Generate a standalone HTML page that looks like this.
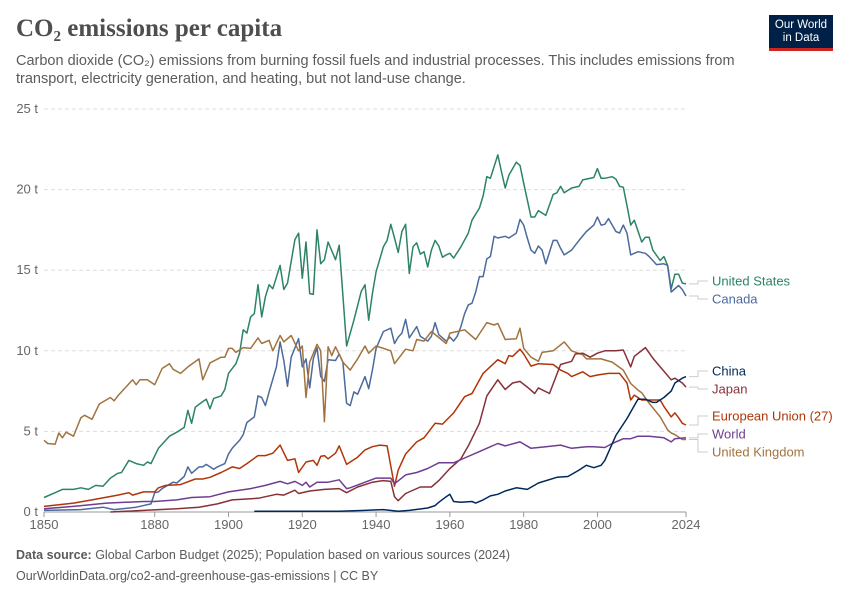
<!DOCTYPE html>
<html><head><meta charset="utf-8">
<style>
body{margin:0;background:#fff;width:850px;height:600px;overflow:hidden;font-family:"Liberation Sans",sans-serif}
.t{position:absolute}
</style></head>
<body>
<div class="t" style="left:16px;top:15px;font-family:'Liberation Serif',serif;font-size:25px;font-weight:bold;color:#4e4e4e">CO₂ emissions per capita</div>
<div class="t" style="left:16px;top:52px;width:740px;font-size:14.5px;line-height:18px;color:#5b5b5b">Carbon dioxide (CO₂) emissions from burning fossil fuels and industrial processes. This includes emissions from transport, electricity generation, and heating, but not land-use change.</div>
<div class="t" style="left:769px;top:15px;width:64px;height:36px;background:#002147;border-bottom:3px solid #ce261e;color:#fff;font-size:11.5px;line-height:13px;text-align:center;padding-top:4px;box-sizing:border-box">Our World<br>in Data</div>
<svg class="t" style="left:0;top:0" width="850" height="600" id="chart"></svg>
<div class="t" style="left:16px;top:548px;font-size:12.5px;color:#5b5b5b"><b>Data source:</b> Global Carbon Budget (2025); Population based on various sources (2024)</div>
<div class="t" style="left:16px;top:569px;font-size:12.5px;color:#5b5b5b">OurWorldinData.org/co2-and-greenhouse-gas-emissions | CC BY</div>
<script>
const yTicks=[0,5,10,15,20,25];
const xTicks=[1850,1880,1900,1920,1940,1960,1980,2000,2024];
const usYears=[1850,1853,1855,1858,1860,1862,1864,1866,1868,1870,1871,1873,1875,1877,1878,1879,1881,1882,1884,1886,1888,1889,1890,1891,1893,1894,1895,1896,1898,1899,1900,1902,1903,1904,1905,1906,1907,1908,1909,1910,1911,1912,1914,1915,1916,1918,1919,1920,1921,1922,1923,1924,1925,1926,1927,1929,1930,1932,1934,1936,1937,1938,1939,1940,1942,1943,1944,1945,1946,1947,1948,1949,1950,1951,1952,1953,1954,1955,1956,1957,1958,1959,1960,1961,1963,1965,1966,1968,1969,1970,1971,1973,1974,1975,1976,1978,1979,1980,1982,1983,1984,1986,1988,1989,1990,1991,1993,1995,1996,1999,2000,2001,2002,2004,2005,2006,2007,2008,2009,2010,2012,2013,2014,2015,2017,2018,2019,2020,2021,2022,2023,2024];
const usValues=[0.9,1.2,1.4,1.4,1.5,1.4,1.65,1.6,2.1,2.4,2.45,3.2,3.0,2.9,3.1,3.0,3.95,4.2,4.7,4.95,5.25,6.3,5.5,6.5,6.85,7.0,6.4,7.05,7.2,7.6,8.6,9.2,9.85,11.3,11.1,12.1,12.3,14.1,12.1,13.35,14.1,13.85,15.3,13.8,14.2,16.9,17.3,14.5,16.75,13.55,13.5,17.5,15.4,15.65,16.75,15.65,16.55,10.3,11.9,13.7,14.1,11.9,13.55,14.9,16.45,16.85,17.85,17.0,16.1,17.4,17.85,14.8,16.45,16.7,16.0,16.15,15.2,16.25,16.85,16.5,15.8,15.95,16.05,15.75,16.45,17.3,18.1,18.85,19.6,20.8,20.7,22.15,21.1,20.1,20.9,21.7,21.5,20.4,18.3,18.3,18.7,18.4,19.7,19.8,20.2,19.8,20.1,20.2,20.6,20.75,21.3,20.7,20.7,20.8,20.65,20.2,20.15,19.0,17.8,18.1,16.75,17.05,17.05,16.25,15.6,15.85,15.3,13.85,14.75,14.75,14.2,14.15];
const caYears=[1850,1860,1866,1869,1875,1879,1880,1881,1882,1885,1886,1888,1889,1890,1892,1893,1894,1896,1897,1899,1900,1901,1903,1904,1905,1907,1908,1909,1910,1911,1913,1914,1915,1916,1917,1919,1920,1921,1922,1923,1924,1925,1926,1927,1929,1930,1931,1932,1933,1934,1935,1937,1938,1939,1940,1942,1944,1945,1946,1947,1948,1949,1951,1952,1954,1955,1956,1957,1959,1960,1961,1962,1963,1964,1965,1966,1967,1968,1969,1970,1971,1972,1973,1975,1976,1978,1979,1980,1981,1982,1983,1984,1985,1986,1988,1989,1990,1991,1993,1995,1997,1999,2000,2001,2002,2003,2005,2006,2007,2008,2009,2011,2013,2014,2016,2018,2019,2020,2022,2023,2024];
const caValues=[0.1,0.15,0.3,0.15,0.3,0.5,1.2,1.25,1.45,1.85,1.8,2.2,2.8,2.4,2.8,2.8,2.95,2.65,2.8,3.0,3.6,3.95,4.45,4.8,5.55,5.9,7.2,7.1,6.6,7.45,9.0,10.55,9.4,7.8,9.6,10.75,9.0,9.5,7.7,9.5,10.2,8.4,8.1,9.45,9.4,9.8,9.3,6.75,6.6,7.45,7.3,8.4,7.65,8.8,10.15,11.2,11.4,10.45,10.85,11.1,11.95,10.8,11.5,10.9,10.6,10.9,11.75,11.0,10.6,10.85,10.6,10.9,11.5,12.3,12.85,12.95,13.65,14.6,14.6,15.7,15.85,17.1,17.0,17.1,17.0,17.3,18.15,17.8,17.0,16.25,16.05,16.5,16.25,15.4,16.85,16.85,16.35,15.95,16.25,16.85,17.4,17.8,18.3,17.8,17.85,18.2,17.4,17.3,17.8,17.3,15.95,16.15,16.05,15.85,15.35,15.4,15.3,13.65,14.05,13.8,13.4];
const ukYears=[1850,1851,1853,1854,1855,1856,1858,1860,1861,1863,1865,1868,1869,1870,1874,1875,1876,1878,1880,1882,1884,1885,1887,1889,1892,1893,1895,1898,1899,1900,1901,1902,1904,1906,1908,1909,1911,1912,1914,1915,1917,1919,1920,1921,1922,1924,1925,1926,1927,1928,1929,1931,1933,1935,1937,1938,1940,1944,1945,1948,1950,1951,1953,1955,1959,1960,1964,1967,1970,1972,1973,1975,1978,1979,1980,1982,1984,1985,1988,1991,1993,1996,1997,2001,2004,2007,2009,2011,2012,2014,2017,2019,2020,2021,2023,2024];
const ukValues=[4.45,4.25,4.2,4.9,4.6,4.95,4.7,5.85,6.0,5.75,6.7,7.1,6.9,7.2,8.2,7.9,8.2,8.2,7.9,8.9,9.2,8.85,8.6,9.0,9.5,8.2,9.25,9.6,9.6,10.15,10.15,9.9,10.2,10.15,10.8,10.45,10.65,10.0,10.95,10.55,10.95,10.0,10.3,7.1,9.3,10.4,10.0,5.6,10.25,9.7,10.25,9.3,8.8,9.5,10.3,9.85,10.3,10.0,9.2,10.1,10.0,10.7,10.6,11.2,10.45,11.1,11.3,10.7,11.75,11.6,11.7,10.7,10.75,11.4,10.15,9.6,9.35,9.9,10.0,10.55,10.0,9.75,9.5,9.5,9.3,8.8,7.97,7.56,7.4,6.75,5.9,5.1,4.9,4.8,4.5,4.5];
const euYears=[1850,1858,1863,1870,1873,1874,1877,1880,1881,1883,1887,1891,1893,1895,1898,1901,1903,1905,1908,1910,1912,1914,1916,1918,1919,1921,1923,1924,1925,1926,1927,1929,1930,1932,1935,1937,1939,1941,1943,1945,1946,1948,1951,1953,1956,1958,1961,1964,1966,1969,1973,1975,1976,1977,1979,1980,1982,1984,1988,1990,1992,1993,1996,1998,2000,2003,2006,2008,2009,2010,2012,2013,2017,2018,2020,2021,2022,2023,2024];
const euValues=[0.35,0.55,0.75,1.05,1.2,1.05,1.25,1.25,1.5,1.65,1.7,2.05,2.05,2.15,2.45,2.8,2.7,3.0,3.5,3.5,3.65,4.15,3.2,3.3,2.45,3.1,3.2,2.9,3.45,3.5,3.3,3.65,4.1,2.95,3.4,3.85,4.05,4.15,4.1,1.6,2.6,3.6,4.35,4.6,5.5,5.45,6.15,7.15,7.35,8.6,9.45,9.2,9.7,9.65,10.1,9.8,9.05,9.2,9.15,8.8,8.6,8.4,8.7,8.4,8.5,8.6,8.6,8.0,6.95,7.25,6.95,6.95,6.95,6.55,5.9,6.15,5.85,5.5,5.4];
const jpYears=[1868,1877,1886,1892,1897,1901,1908,1913,1915,1918,1919,1922,1926,1930,1932,1935,1939,1942,1944,1945,1946,1948,1952,1955,1957,1960,1963,1965,1968,1970,1973,1975,1977,1979,1981,1983,1984,1987,1990,1993,1994,1996,1998,2000,2002,2005,2007,2009,2010,2013,2015,2017,2020,2021,2023,2024];
const jpValues=[0.0,0.1,0.2,0.3,0.5,0.75,0.85,1.1,1.05,1.35,1.15,1.3,1.4,1.45,1.2,1.55,1.85,1.95,1.9,0.95,0.7,1.15,1.55,1.55,1.95,2.7,3.3,4.1,5.5,7.2,8.2,7.6,8.0,8.1,7.75,7.35,7.7,7.35,9.15,9.35,9.8,9.85,9.6,9.85,10.0,10.0,10.05,9.0,9.65,10.2,9.55,9.0,8.2,8.3,8.0,7.75];
const cnYears=[1907,1920,1930,1937,1942,1946,1949,1954,1956,1957,1959,1960,1961,1963,1966,1967,1969,1971,1973,1975,1978,1981,1984,1989,1992,1995,1997,1999,2001,2002,2005,2008,2010,2011,2013,2015,2016,2018,2020,2021,2023,2024];
const cnValues=[0.05,0.05,0.05,0.1,0.15,0.05,0.1,0.25,0.4,0.6,0.95,1.1,0.65,0.6,0.65,0.55,0.75,1.0,1.1,1.3,1.5,1.4,1.8,2.15,2.2,2.6,2.9,2.75,2.9,3.2,4.75,5.8,6.6,7.0,7.0,6.8,6.8,7.1,7.5,8.0,8.3,8.4];
const wdYears=[1850,1858,1867,1877,1880,1886,1890,1895,1900,1906,1910,1914,1916,1918,1920,1921,1922,1924,1927,1930,1932,1933,1937,1940,1944,1945,1948,1951,1954,1957,1961,1964,1967,1970,1973,1975,1979,1982,1986,1990,1993,1997,1999,2002,2004,2007,2009,2011,2014,2018,2020,2021,2024];
const wdValues=[0.2,0.35,0.55,0.65,0.65,0.75,0.9,0.95,1.25,1.45,1.65,1.9,1.75,1.9,1.65,1.85,1.55,1.85,1.85,2.0,1.45,1.5,1.85,2.1,2.1,1.75,2.3,2.45,2.7,3.05,3.05,3.35,3.65,3.95,4.25,4.1,4.35,3.95,4.05,4.15,3.95,4.05,4.05,4.0,4.25,4.55,4.55,4.7,4.7,4.6,4.35,4.55,4.6];

const svg=document.getElementById('chart');
const NS='http://www.w3.org/2000/svg';
const X0=44,X1=686,Y0=512,Y1=109;
const xs=y=>X0+(y-1850)*(X1-X0)/(2024-1850);
const ys=v=>Y0-v*(Y0-Y1)/25;
function mk(t,a){const e=document.createElementNS(NS,t);for(const k in a)e.setAttribute(k,a[k]);svg.appendChild(e);return e;}
yTicks.forEach(v=>{
  if(v>0){const g=mk('line',{x1:X0,x2:X1,y1:ys(v),y2:ys(v),stroke:'#ddd','stroke-dasharray':'4,3'});
  
  }
  const t=mk('text',{x:38,y:ys(v)+4,'text-anchor':'end','font-size':13,fill:'#666','font-family':'Liberation Sans,sans-serif'});
  t.textContent=v+' t';
  
  
});
const ax=mk('line',{x1:X0,x2:X1,y1:Y0,y2:Y0,stroke:'#999'});


xTicks.forEach(yr=>{
  const tk=mk('line',{x1:xs(yr),x2:xs(yr),y1:Y0,y2:Y0+5,stroke:'#999'});
  
  
  const t=mk('text',{x:xs(yr),y:Y0+17,'text-anchor':'middle','font-size':13,fill:'#666','font-family':'Liberation Sans,sans-serif'});
  t.textContent=yr;
  
  
});
const series=[
 ['united-states',usYears,usValues,'#2c8465','United States',281],
 ['canada',caYears,caValues,'#4c6a9c','Canada',299],
 ['united-kingdom',ukYears,ukValues,'#a2733f','United Kingdom',452],
 ['european-union',euYears,euValues,'#b13507','European Union (27)',416],
 ['japan',jpYears,jpValues,'#883039','Japan',389],
 ['world',wdYears,wdValues,'#6d3e91','World',434],
 ['china',cnYears,cnValues,'#00295b','China',371]
];
series.forEach(s=>{
  const d=s[1].map((yr,i)=>(i?'L':'M')+xs(yr).toFixed(1)+','+ys(s[2][i]).toFixed(1)).join('');
  const p=mk('path',{d:d,fill:'none',stroke:s[3],'stroke-width':1.5,'stroke-linejoin':'round'});
  
  
  const last=s[2][s[2].length-1];
  const c=mk('path',{d:`M${X1+3},${ys(last)}H${X1+12}V${s[5]}H${X1+22}`,fill:'none',stroke:'#ccc','stroke-width':1});
  
  
  const t=mk('text',{x:712,y:s[5]+4.5,'font-size':13,fill:s[3],'font-family':'Liberation Sans,sans-serif'});
  t.textContent=s[4];
  
  
});
</script>
</body></html>
